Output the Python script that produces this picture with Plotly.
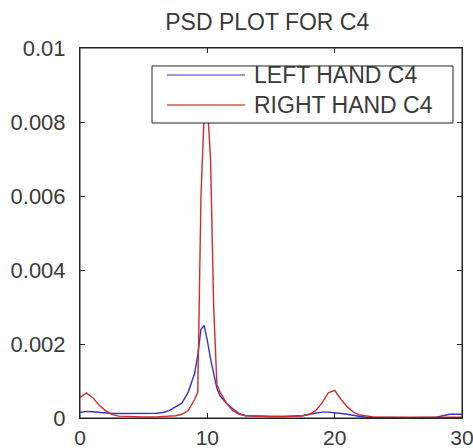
import plotly.graph_objects as go

# Left hand C4 PSD
freq_left = [0, 0.5, 1, 1.5, 2, 2.5, 3, 4, 5, 6, 6.5, 7, 7.5, 8, 8.5, 9, 9.25, 9.5, 9.75, 10, 10.25, 10.5,
             10.75, 11, 11.5, 12, 12.5, 13, 14, 15, 16, 17, 17.5, 18, 18.5, 19, 19.5, 20, 20.5, 21, 21.5,
             22, 22.5, 24, 26, 28, 28.5, 29, 29.5, 30]
psd_left = [0.00015, 0.00018, 0.00017, 0.00015, 0.00013, 0.00012, 0.00012, 0.00012, 0.00012, 0.00013,
            0.00015, 0.0002, 0.0003, 0.0004, 0.0007, 0.0012, 0.0017, 0.0024, 0.0025, 0.0021, 0.0016,
            0.0012, 0.0008, 0.0006, 0.0004, 0.00025, 0.00012, 0.00006, 0.00004, 0.00004, 0.00004, 0.00004,
            0.00006, 0.0001, 0.00014, 0.00016, 0.00016, 0.00015, 0.00012, 0.0001, 0.00006, 0.00004,
            0.00002, 0.00001, 0.00001, 0.00002, 0.00005, 0.0001, 0.0001, 0.0001]

# Right hand C4 PSD
freq_right = [0, 0.5, 1, 1.5, 2, 2.5, 3, 4, 5, 6, 7, 7.5, 8, 8.5, 9, 9.25, 9.5, 9.75, 10, 10.25, 10.5,
              10.75, 11, 11.5, 12, 12.5, 13, 14, 15, 16, 17, 17.5, 18, 18.5, 19, 19.5, 20, 20.5, 21, 21.5,
              22, 22.5, 23, 25, 27, 29, 30]
psd_right = [0.00055, 0.00068, 0.00055, 0.00035, 0.0002, 0.0001, 0.00005, 0.00003, 0.00003, 0.00003,
             0.00004, 0.00006, 0.0001, 0.0002, 0.0005, 0.0007, 0.0060, 0.0082, 0.0085, 0.0070, 0.0030,
             0.0009, 0.0007, 0.0004, 0.0002, 0.0001, 0.00006, 0.00004, 0.00004, 0.00004, 0.00004, 0.00006,
             0.0001, 0.0002, 0.0004, 0.00068, 0.00075, 0.0005, 0.0003, 0.00015, 0.00008, 0.00005,
             0.00003, 0.00002, 0.00002, 0.00002, 0.00002]

series_names = ["LEFT HAND C4", "RIGHT HAND C4"]
line_colors = ["#3434c8", "#d42a2a"]
legend_colors = ["#7a78c8", "#cc5a5a"]

x_ticks = [0, 10, 20, 30]
y_ticks = [0, 0.002, 0.004, 0.006, 0.008, 0.01]
y_tick_labels = ["0", "0.002", "0.004", "0.006", "0.008", "0.01"]

font = "Liberation Sans, Arial, sans-serif"
text_color = "#3a3a3a"

fig = go.Figure()
for fx, fy, name, col in [(freq_left, psd_left, series_names[0], line_colors[0]),
                          (freq_right, psd_right, series_names[1], line_colors[1])]:
    fig.add_trace(go.Scatter(x=fx, y=fy, mode="lines", name=name,
                             line=dict(color=col, width=1.4), showlegend=False))

axis_common = dict(showline=True, linecolor="#222", linewidth=1, mirror="allticks",
                   ticks="inside", ticklen=5, tickcolor="#222", showgrid=False, zeroline=False,
                   automargin=False, ticklabeloverflow="allow")

fig.update_layout(
    width=473, height=448,
    margin=dict(l=80, r=11, t=48, b=30),
    paper_bgcolor="white", plot_bgcolor="white",
    title=dict(text="PSD PLOT FOR C4", x=0.565, xanchor="center", y=0.95, yanchor="middle",
               font=dict(family=font, size=23, color=text_color)),
    xaxis=dict(range=[0, 30], tickvals=x_ticks, ticktext=[str(v) for v in x_ticks],
               ticklabelstandoff=1, tickfont=dict(family=font, size=21, color=text_color),
               **axis_common),
    yaxis=dict(range=[0, 0.01], tickvals=y_ticks, ticktext=y_tick_labels,
               ticklabelstandoff=9, tickfont=dict(family=font, size=22, color=text_color),
               **axis_common),
    showlegend=False,
)

# Plot frame
fig.add_shape(type="rect", xref="paper", yref="paper", x0=0, x1=1, y0=0, y1=1,
              line=dict(color="#222", width=1), layer="above")

# Legend box (drawn manually to match the long line samples of the original)
box = dict(x0=0.1885, x1=0.9764, y0=0.7973, y1=0.9514)
fig.add_shape(type="rect", xref="paper", yref="paper", **box,
              line=dict(color="#222", width=1), fillcolor="white", layer="above")
rows_y = [0.927, 0.846]
for name, col, ry in zip(series_names, legend_colors, rows_y):
    fig.add_shape(type="line", xref="paper", yref="paper", x0=0.2277, x1=0.4319, y0=ry, y1=ry,
                  line=dict(color=col, width=1.5), layer="above")
    fig.add_annotation(xref="paper", yref="paper", x=0.4503, y=ry, xanchor="left", yanchor="middle",
                       text=name, showarrow=False,
                       font=dict(family=font, size=23, color=text_color))

fig.write_html("out.html", config={"displayModeBar": False},
               post_script="document.body.style.margin='0';")
